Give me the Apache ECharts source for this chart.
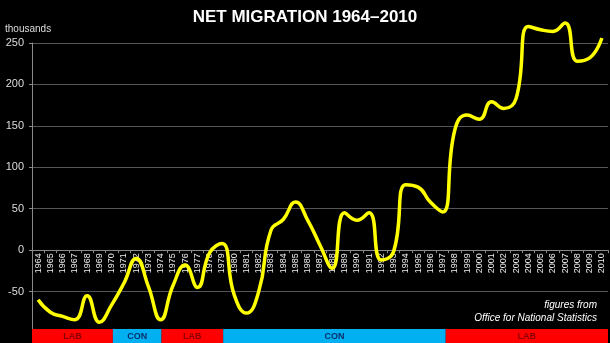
<!DOCTYPE html>
<html>
<head>
<meta charset="utf-8">
<style>
  html, body { margin: 0; padding: 0; background: #000; }
  #chart { width: 610px; height: 343px; }
</style>
<script src="https://cdn.jsdelivr.net/npm/echarts@6/dist/echarts.min.js"></script>
</head>
<body>
<div id="chart"></div>
<script>
// Calendar years on the horizontal axis
const years = [
  '1964','1965','1966','1967','1968','1969','1970','1971','1972','1973',
  '1974','1975','1976','1977','1978','1979','1980','1981','1982','1983',
  '1984','1985','1986','1987','1988','1989','1990','1991','1992','1993',
  '1994','1995','1996','1997','1998','1999','2000','2001','2002','2003',
  '2004','2005','2006','2007','2008','2009','2010'
];

// Net migration to the UK, thousands per year
const netMigration = [
  -60, -75, -80, -84, -55, -87, -66, -40, -10, -44,
  -84, -43, -18, -45,  -3,   8, -54, -76, -50,  24,
   37,  58,  36,   6, -22,  45,  36,  45, -12,  -2,
   79,  76,  58,  46, 145, 163, 158, 179, 171, 183,
  270, 266, 264, 274, 228, 232, 256
];

// Value-axis range and step
const yMin = -100;
const yMax = 250;
const yStep = 50;

// Party in government: [from, to, party] in year units (category centres)
const governments = [
  [1963.5, 1970.1,  'LAB'],
  [1970.1, 1974.07, 'CON'],
  [1974.07, 1979.1, 'LAB'],
  [1979.1, 1997.26, 'CON'],
  [1997.26, 2010.5, 'LAB']
];

const partyColours = {
  LAB: { fill: '#ff0000', text: '#8a0000' },
  CON: { fill: '#00b0f0', text: '#0b2f6b' }
};

const FONT = '"Liberation Sans", Arial, sans-serif';

// Plot box of the main grid
const plot = { left: 32, right: 2, top: 43, bottom: 10 };
const plotHeight = 343 - plot.top - plot.bottom;
// Shift the year axis up from the grid bottom to the zero line
const zeroOffset = -((0 - yMin) / (yMax - yMin)) * plotHeight;

const chart = echarts.init(document.getElementById('chart'));

chart.setOption({
  backgroundColor: '#000',
  animation: false,
  title: {
    text: 'NET MIGRATION 1964\u20132010',
    left: 'center',
    top: 4,
    textStyle: { color: '#fff', fontSize: 17, fontWeight: 'bold', fontFamily: FONT }
  },
  grid: [
    {
      left: plot.left, right: plot.right, top: plot.top, bottom: plot.bottom,
      containLabel: false, outerBoundsMode: 'none'
    },
    {
      left: plot.left, right: plot.right, top: 329, height: 14,
      containLabel: false, outerBoundsMode: 'none'
    }
  ],
  xAxis: [
    {
      type: 'category',
      gridIndex: 0,
      data: years,
      boundaryGap: true,
      position: 'bottom',
      offset: zeroOffset,
      axisLine: { onZero: false, lineStyle: { color: '#8a8a8a', width: 1 } },
      axisTick: { show: true, length: 3, lineStyle: { color: '#8a8a8a' } },
      axisLabel: {
        rotate: 90,
        interval: 0,
        margin: 3,
        fontSize: 9,
        color: '#eeeeee',
        fontFamily: FONT,
        hideOverlap: false
      },
      splitLine: { show: false }
    },
    {
      type: 'value',
      gridIndex: 1,
      min: 1963.5,
      max: 2010.5,
      show: false
    }
  ],
  yAxis: [
    {
      type: 'value',
      gridIndex: 0,
      min: yMin,
      max: yMax,
      interval: yStep,
      axisLine: { show: true, lineStyle: { color: '#8a8a8a', width: 1 } },
      axisTick: { show: true, length: 3, lineStyle: { color: '#8a8a8a' } },
      axisLabel: {
        color: '#dddddd',
        fontSize: 11,
        margin: 8,
        fontFamily: FONT,
        formatter: v => (v === yMin ? '' : String(v))
      },
      splitLine: { show: true, lineStyle: { color: '#555555', width: 1 } }
    },
    {
      type: 'value',
      gridIndex: 1,
      min: 0,
      max: 1,
      show: false
    }
  ],
  graphic: [
    {
      type: 'text',
      left: 5,
      top: 24,
      style: { text: 'thousands', fill: '#dddddd', font: '10px ' + FONT }
    },
    {
      type: 'text',
      right: 13,
      top: 300,
      style: { text: 'figures from', fill: '#ffffff', font: 'italic 10px ' + FONT, align: 'right' }
    },
    {
      type: 'text',
      right: 13,
      top: 313,
      style: { text: 'Office for National Statistics', fill: '#ffffff', font: 'italic 10px ' + FONT, align: 'right' }
    },
    // Strip beside the party band: keeps the axis foot clean
    {
      type: 'rect',
      left: 0,
      top: 329,
      z: 100,
      shape: { width: plot.left, height: 14 },
      style: { fill: '#000' }
    }
  ],
  series: [
    {
      name: 'Net migration',
      type: 'line',
      xAxisIndex: 0,
      yAxisIndex: 0,
      data: netMigration,
      smooth: 0.5,
      symbol: 'none',
      clip: false,
      z: 5,
      lineStyle: { color: '#ffff00', width: 3.5 }
    },
    {
      name: 'Government',
      type: 'custom',
      xAxisIndex: 1,
      yAxisIndex: 1,
      data: governments.map(g => [g[0], g[1]]),
      encode: { x: [0, 1] },
      z: 10,
      renderItem: function (params, api) {
        const start = api.coord([api.value(0), 0]);
        const end = api.coord([api.value(1), 0]);
        const cs = params.coordSys;
        const party = governments[params.dataIndex][2];
        const col = partyColours[party];
        return {
          type: 'group',
          children: [
            {
              type: 'rect',
              shape: { x: start[0], y: cs.y, width: end[0] - start[0], height: cs.height },
              style: { fill: col.fill }
            },
            {
              type: 'text',
              style: {
                text: party,
                x: (start[0] + end[0]) / 2,
                y: cs.y + cs.height / 2 + 1,
                align: 'center',
                verticalAlign: 'middle',
                fill: col.text,
                font: 'bold 9px ' + FONT
              }
            }
          ]
        };
      }
    }
  ]
});
</script>
</body>
</html>
